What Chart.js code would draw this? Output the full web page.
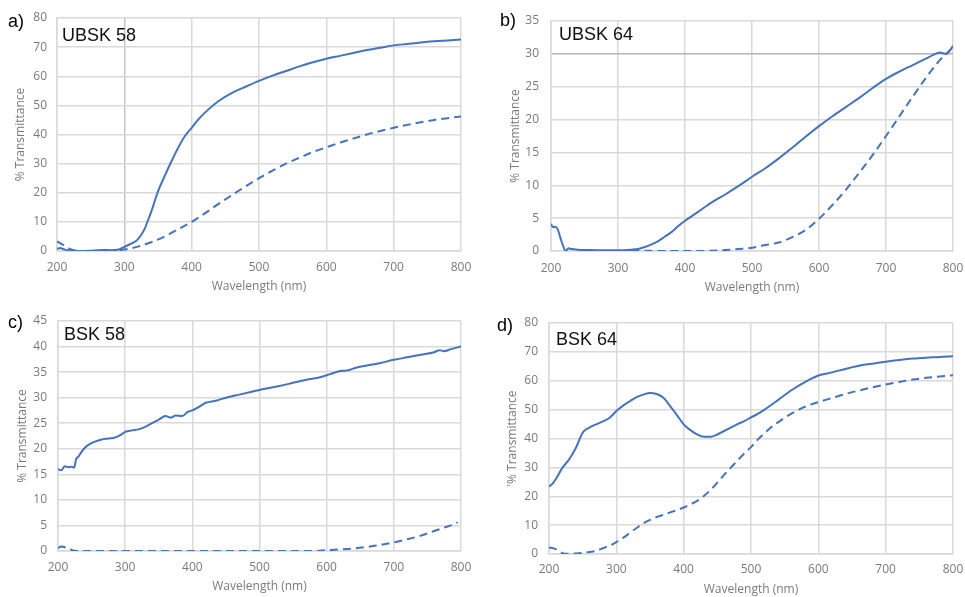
<!DOCTYPE html>
<html>
<head>
<meta charset="utf-8">
<script src="https://cdn.jsdelivr.net/npm/chart.js@4.4.1/dist/chart.umd.min.js"></script>
<style>
  body { margin: 0; background: #fff; }
  #wrap { position: relative; width: 965px; height: 597px; overflow: hidden; }
  #wrap canvas { position: absolute; }
  .tag { position: absolute; font: 18px "Liberation Sans", Arial, sans-serif; line-height: 20px; color: #000; }
</style>
</head>
<body>
<div id="wrap">
  <canvas id="chartA" width="475" height="297" style="left:0;top:0"></canvas>
  <canvas id="chartB" width="480" height="297" style="left:485px;top:0"></canvas>
  <canvas id="chartC" width="475" height="297" style="left:0;top:300px"></canvas>
  <canvas id="chartD" width="480" height="297" style="left:485px;top:300px"></canvas>
  <div class="tag" style="left:8px;top:11px">a)</div>
  <div class="tag" style="left:500px;top:10px">b)</div>
  <div class="tag" style="left:8px;top:312px">c)</div>
  <div class="tag" style="left:497px;top:315px">d)</div>
</div>
<script>
// UBSK 58
const ubsk58SolidWl = [200,205,210,215,220,230,240,250,260,270,280,290,300,310,320,330,335,340,350,360,370,380,390,400,410,420,440,460,480,500,520,540,560,580,600,620,640,660,680,700,720,740,760,780,800];
const ubsk58Solid   = [0.8,1.0,0.6,0.3,0.05,0.0,0.0,0.05,0.25,0.35,0.3,0.4,1.4,2.5,4.0,7.5,10.5,13.5,20.5,25.8,30.8,35.5,39.5,42.3,45.2,47.6,51.5,54.3,56.4,58.4,60.2,61.8,63.4,64.8,66.0,67.0,68.0,69.0,69.8,70.6,71.1,71.6,72.0,72.3,72.6];
const ubsk58DashWl  = [200,210,220,230,240,260,280,290,300,310,320,340,360,380,400,420,440,460,480,500,520,540,560,580,600,620,640,660,680,700,720,740,760,780,800];
const ubsk58Dash    = [3.3,2.0,0.6,0.1,0,0,0,0.2,0.5,0.9,1.5,3.0,5.0,7.5,10.0,13.0,16.2,19.2,22.2,25.0,27.6,30.0,32.0,34.0,35.6,37.2,38.6,40.0,41.2,42.3,43.3,44.2,45.0,45.6,46.2];

// UBSK 64
const ubsk64SolidWl = [200,203,206,210,214,218,222,226,230,240,260,280,300,320,330,340,350,360,370,380,390,400,420,440,460,480,500,520,540,560,580,600,620,640,660,680,700,720,740,760,770,780,790,800];
const ubsk64Solid   = [4.1,3.6,3.7,3.3,2.0,0.8,0.0,0.4,0.3,0.2,0.15,0.1,0.1,0.2,0.3,0.6,1.0,1.5,2.2,2.9,3.8,4.6,6.0,7.4,8.6,9.9,11.3,12.6,14.1,15.7,17.4,19.0,20.5,21.9,23.3,24.8,26.2,27.3,28.3,29.3,29.8,30.2,30.0,31.2];
const ubsk64DashWl  = [320,340,360,380,400,420,440,460,480,500,520,540,560,580,600,620,640,660,680,700,720,740,760,780,800];
const ubsk64Dash    = [0.1,0.05,0,0,0,0,0.05,0.15,0.3,0.5,0.9,1.3,2.1,3.2,4.9,7.0,9.3,11.9,14.6,17.5,20.5,23.5,26.4,29.0,31.0];

// BSK 58
const bsk58SolidWl = [200,203,206,210,215,220,224,227,230,235,240,247,255,265,275,285,292,300,310,320,330,340,350,360,368,375,385,393,400,410,420,435,450,470,490,510,530,550,570,590,605,620,630,645,660,680,700,720,740,760,768,775,785,800];
const bsk58Solid   = [16.1,15.8,15.9,16.6,16.4,16.5,16.3,18.0,18.4,19.4,20.2,20.9,21.4,21.8,22.0,22.2,22.6,23.3,23.6,23.8,24.3,25.0,25.7,26.4,26.1,26.5,26.4,27.2,27.5,28.2,29.0,29.4,30.0,30.6,31.2,31.8,32.3,32.9,33.5,34.0,34.6,35.2,35.3,35.9,36.3,36.8,37.4,37.9,38.4,38.9,39.3,39.1,39.5,40.0];
const bsk58DashWl  = [200,205,215,225,240,300,400,500,580,600,620,640,660,680,700,720,740,760,780,795];
const bsk58Dash    = [0.6,0.9,0.5,0.05,0,0,0,0,0,0.15,0.3,0.5,0.8,1.2,1.7,2.3,3.0,3.9,4.8,5.6];

// BSK 64
const bsk64SolidWl = [200,205,210,220,230,240,250,260,270,280,290,300,310,320,330,340,350,360,370,380,390,400,410,420,430,440,450,460,470,480,490,500,510,520,540,560,580,600,620,640,660,680,700,720,740,760,780,800];
const bsk64Solid   = [23.4,24.3,25.9,29.9,32.8,36.8,42.0,43.8,44.9,45.9,47.2,49.5,51.4,52.9,54.3,55.2,55.8,55.4,54.1,51.2,48.1,44.9,42.9,41.4,40.6,40.6,41.4,42.6,43.8,45.0,46.0,47.3,48.5,50.0,53.3,56.7,59.5,61.8,62.9,64.1,65.2,65.9,66.6,67.2,67.7,68.0,68.2,68.5];
const bsk64DashWl  = [200,210,220,230,240,250,260,270,280,290,300,310,320,330,340,350,360,370,380,390,400,410,420,430,440,450,460,470,480,490,500,510,520,530,540,550,560,580,600,620,640,660,680,700,720,740,760,780,800];
const bsk64Dash    = [2.3,1.7,0.3,0.1,0.2,0.4,0.7,1.1,2.0,2.9,4.1,5.6,7.3,9.0,10.6,11.8,12.8,13.6,14.4,15.2,16.1,17.2,18.4,20.1,22.2,24.7,27.4,29.9,32.4,34.8,37.0,39.6,41.8,43.9,45.6,47.2,48.6,51.0,52.6,54.0,55.4,56.6,57.7,58.7,59.6,60.4,61.0,61.5,61.9];

const xTicks = [200, 800, 100];   // min, max, step

const BLUE = '#4472C4';
const GRID = '#d9d9d9';
const AXIS_TEXT = '#7a7a7a';
const tickFont = { family: '"Open Sans", sans-serif', size: 12 };

function pts(wl, v) {
  return wl.map((w, i) => ({ x: w, y: v[i] }));
}

// writes the sample name inside the plot, top-left
const sampleName = {
  id: 'sampleName',
  afterDatasetsDraw(chart, args, opts) {
    const ctx = chart.ctx;
    const a = chart.chartArea;
    ctx.save();
    ctx.font = '18px "Liberation Sans", Arial, sans-serif';
    ctx.fillStyle = '#111';
    ctx.textBaseline = 'alphabetic';
    ctx.fillText(opts.text, a.left + opts.dx, a.top + opts.dy);
    ctx.restore();
  }
};

function makeChart(id, p) {
  return new Chart(document.getElementById(id), {
    type: 'line',
    data: {
      datasets: [
        { data: p.solid, borderColor: BLUE, borderWidth: 2, pointRadius: 0, fill: false, cubicInterpolationMode: 'monotone' },
        { data: p.dash, borderColor: BLUE, borderWidth: 2, borderDash: [8, 5], pointRadius: 0, fill: false, cubicInterpolationMode: 'monotone' }
      ]
    },
    options: {
      responsive: false,
      animation: false,
      events: [],
      layout: { padding: { left: 0, top: p.padTop, right: p.padRight, bottom: 0 } },
      plugins: {
        legend: { display: false },
        tooltip: { enabled: false },
        sampleName: { text: p.name, dx: p.nameDx, dy: p.nameDy }
      },
      scales: {
        x: {
          type: 'linear',
          min: xTicks[0], max: xTicks[1],
          ticks: { stepSize: xTicks[2], padding: p.xTickPad, color: AXIS_TEXT, font: tickFont, maxRotation: 0 },
          grid: {
            drawTicks: false, lineWidth: 1.5,
            color: c => (c.tick && c.tick.value === p.darkX) ? '#c4c4c4' : GRID
          },
          border: { color: GRID, width: 1.5 },
          title: { display: true, text: 'Wavelength (nm)', color: AXIS_TEXT, font: tickFont, padding: { top: 0, bottom: p.xTitlePad } },
          afterFit: s => { s.height = p.xH; s.paddingLeft = 0; s.paddingRight = 0; }
        },
        y: {
          min: 0, max: p.yMax,
          ticks: { stepSize: p.yStep, padding: p.yTickPad, color: AXIS_TEXT, font: tickFont },
          grid: {
            drawTicks: false, lineWidth: 1.5,
            color: c => (c.tick && c.tick.value === p.darkY) ? '#b3b3b3' : GRID
          },
          border: { color: GRID, width: 1.5 },
          title: { display: true, text: p.yTitle, color: AXIS_TEXT, font: tickFont, padding: { top: p.yTitlePad, bottom: 0 } },
          afterFit: s => { s.width = p.yW; s.paddingTop = 0; s.paddingBottom = 0; }
        }
      }
    },
    plugins: [sampleName]
  });
}

makeChart('chartA', {
  name: 'UBSK 58', nameDx: 5, nameDy: 23,
  solid: pts(ubsk58SolidWl, ubsk58Solid), dash: pts(ubsk58DashWl, ubsk58Dash),
  yMax: 80, yStep: 10, yTitle: '% Transmittance', darkX: 300,
  yW: 57, padTop: 18, padRight: 14, xH: 46,
  yTitlePad: 13, yTickPad: 10, xTickPad: 9, xTitlePad: 3
});

makeChart('chartB', {
  name: 'UBSK 64', nameDx: 8, nameDy: 19,
  solid: pts(ubsk64SolidWl, ubsk64Solid), dash: pts(ubsk64DashWl, ubsk64Dash),
  yMax: 35, yStep: 5, yTitle: '% Transmittance', darkY: 30,
  yW: 66, padTop: 21, padRight: 12, xH: 46,
  yTitlePad: 23, yTickPad: 12, xTickPad: 10, xTitlePad: 2
});

makeChart('chartC', {
  name: 'BSK 58', nameDx: 6, nameDy: 19,
  solid: pts(bsk58SolidWl, bsk58Solid), dash: pts(bsk58DashWl, bsk58Dash),
  yMax: 45, yStep: 5, yTitle: '% Transmittance',
  yW: 58, padTop: 21, padRight: 14, xH: 46,
  yTitlePad: 15, yTickPad: 11, xTickPad: 9, xTitlePad: 3
});

makeChart('chartD', {
  name: 'BSK 64', nameDx: 7, nameDy: 22,
  solid: pts(bsk64SolidWl, bsk64Solid), dash: pts(bsk64DashWl, bsk64Dash),
  yMax: 80, yStep: 10, yTitle: "'% Transmittance",
  yW: 64, padTop: 23, padRight: 12, xH: 43,
  yTitlePad: 20, yTickPad: 11, xTickPad: 8, xTitlePad: 0
});
</script>
</body>
</html>
